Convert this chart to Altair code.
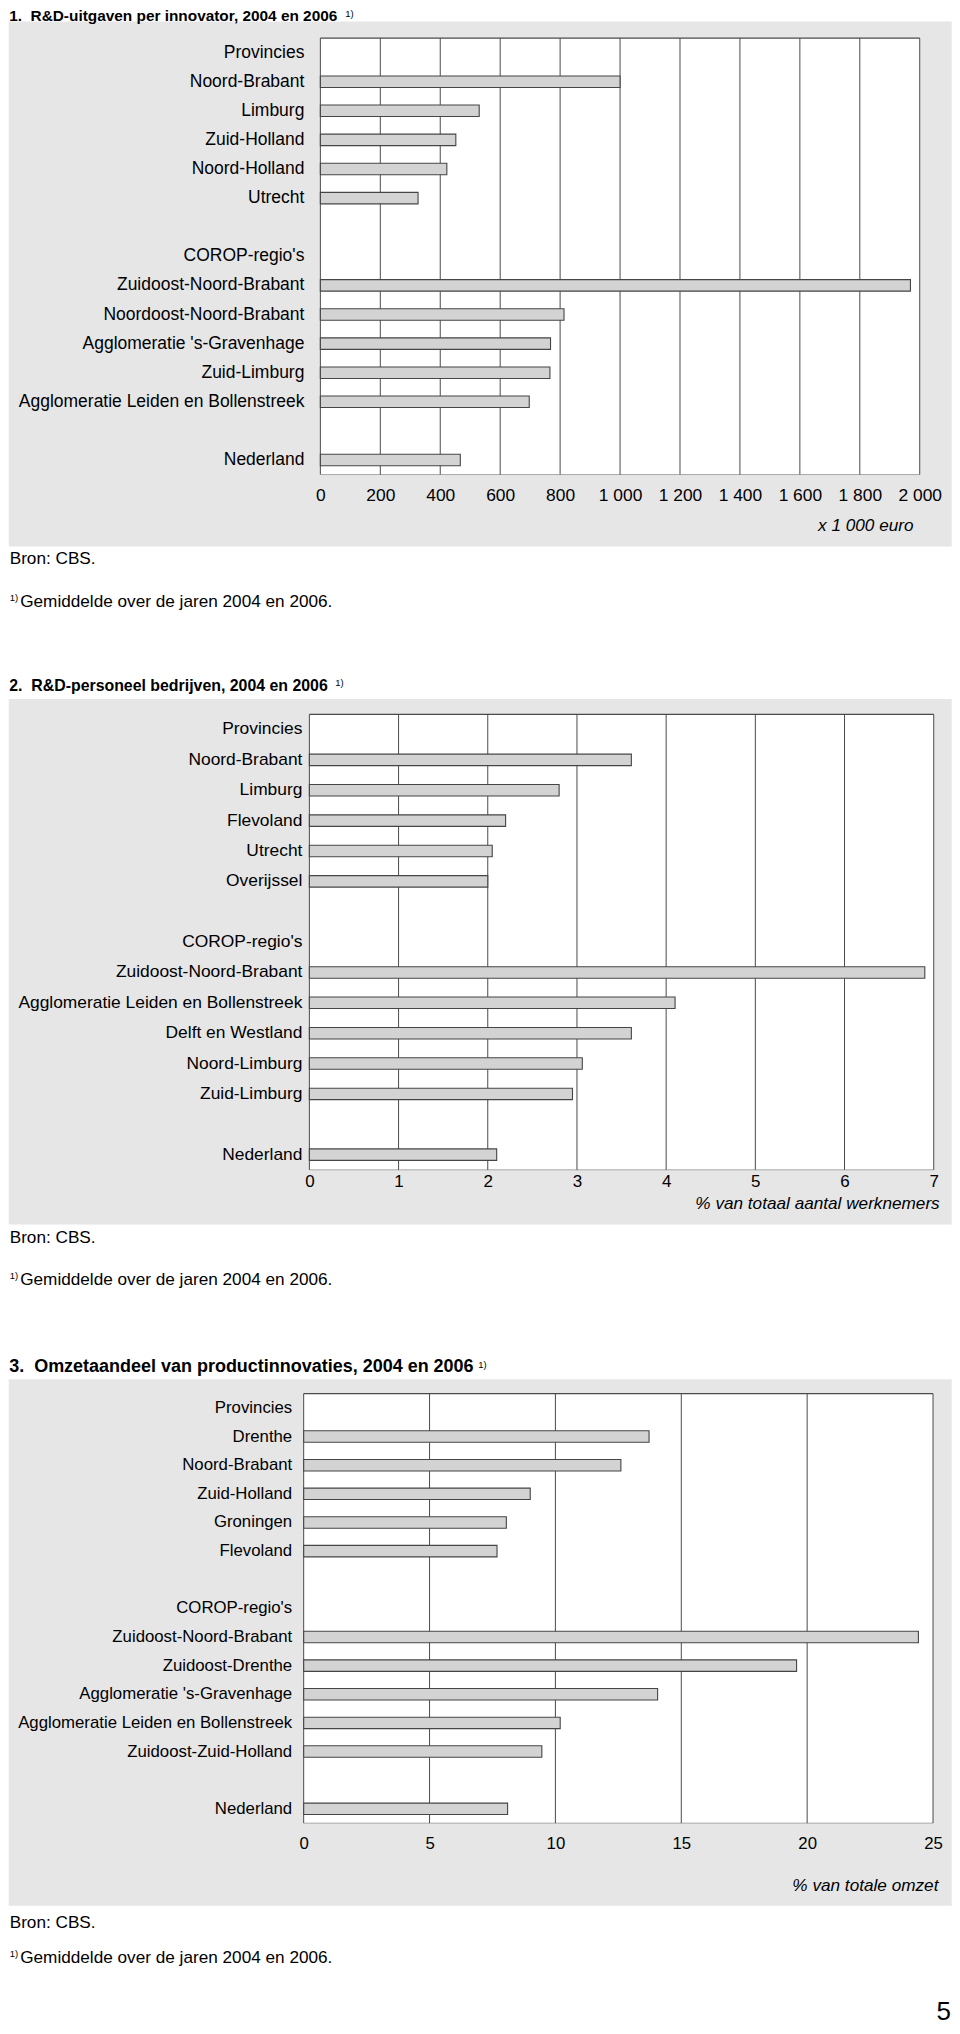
import altair as alt
import pandas as pd

FONT = "Liberation Sans"

# ---------------- data ----------------
c1_labels = ["Provincies", "Noord-Brabant", "Limburg", "Zuid-Holland", "Noord-Holland", "Utrecht", " ",
             "COROP-regio's", "Zuidoost-Noord-Brabant", "Noordoost-Noord-Brabant", "Agglomeratie 's-Gravenhage",
             "Zuid-Limburg", "Agglomeratie Leiden en Bollenstreek", "  ", "Nederland"]
c1_values = [None, 1000, 530, 452, 422, 326, None, None, 1969, 813, 768, 766, 697, None, 467]
c1_ticks = [0, 200, 400, 600, 800, 1000, 1200, 1400, 1600, 1800, 2000]

c2_labels = ["Provincies", "Noord-Brabant", "Limburg", "Flevoland", "Utrecht", "Overijssel", " ",
             "COROP-regio's", "Zuidoost-Noord-Brabant", "Agglomeratie Leiden en Bollenstreek", "Delft en Westland",
             "Noord-Limburg", "Zuid-Limburg", "  ", "Nederland"]
c2_values = [None, 3.61, 2.80, 2.20, 2.05, 2.00, None, None, 6.90, 4.10, 3.61, 3.06, 2.95, None, 2.10]
c2_ticks = [0, 1, 2, 3, 4, 5, 6, 7]

c3_labels = ["Provincies", "Drenthe", "Noord-Brabant", "Zuid-Holland", "Groningen", "Flevoland", " ",
             "COROP-regio's", "Zuidoost-Noord-Brabant", "Zuidoost-Drenthe", "Agglomeratie 's-Gravenhage",
             "Agglomeratie Leiden en Bollenstreek", "Zuidoost-Zuid-Holland", "  ", "Nederland"]
c3_values = [None, 13.72, 12.60, 9.0, 8.05, 7.68, None, None, 24.42, 19.58, 14.06, 10.19, 9.46, None, 8.10]
c3_ticks = [0, 5, 10, 15, 20, 25]

titles = ["1.\u00a0 R&D-uitgaven per innovator, 2004 en 2006",
          "2.\u00a0 R&D-personeel bedrijven, 2004 en 2006",
          "3.\u00a0 Omzetaandeel van productinnovaties, 2004 en 2006"]
axis_titles = ["x 1 000 euro", "% van totaal aantal werknemers", "% van totale omzet"]
source_text = "Bron: CBS."
note_mark = "1)"
note_text = "Gemiddelde over de jaren 2004 en 2006."
page_number = "5"

ONE = pd.DataFrame({"k": [0]})
PANEL = "#e6e6e6"
PAGE_L, PAGE_R = 8, 952
O = 303.3  # common origin of the three views (page x)


def rect(x1, x2, y1, y2, color):
    return alt.Chart(ONE).mark_rect(fill=color, strokeWidth=0).encode(
        x=alt.value(x1), x2=alt.value(x2), y=alt.value(y1), y2=alt.value(y2))


def txt(s, x, y, size, weight="normal", style="normal", align="left", baseline="middle"):
    return alt.Chart(pd.DataFrame({"t": [s]})).mark_text(
        align=align, baseline=baseline, font=FONT, fontSize=size, fontWeight=weight,
        fontStyle=style, color="black").encode(text="t:N", x=alt.value(x), y=alt.value(y))


def panel(labels, values, ticks, title, axis_title, g):
    T, H = g["top"], g["H"]
    rx = lambda px: px - O
    ry = lambda py: py - T
    x0, x1 = rx(g["pl"]), rx(g["pr"])
    df = pd.DataFrame({"label": labels, "v": values})
    X = alt.X("v:Q",
              scale=alt.Scale(domain=[ticks[0], ticks[-1]], range=[x0, x1], nice=False, zero=True),
              axis=alt.Axis(values=ticks,
                            labelExpr="replace(format(datum.value, ','), ',', ' ')",
                            labelFont=FONT, labelFontSize=g["tfs"], labelColor="black",
                            labelPadding=g["tick_pad"], ticks=False, tickSize=0, grid=False,
                            domain=False, labelFlush=False,
                            labelOverlap=False, title=axis_title, titleFont=FONT,
                            titleFontSize=17.2, titleFontStyle="italic", titleFontWeight="normal",
                            titleColor="black", titleX=rx(g["atx"]), titleY=g["aty"],
                            titleAlign="right", titleBaseline="middle", zindex=1))
    Y = alt.Y("label:N",
              scale=alt.Scale(domain=labels, paddingInner=0, paddingOuter=0),
              axis=alt.Axis(title=None, labelFont=FONT, labelFontSize=g["fs"], labelColor="black",
                            labelPadding=O - g["lab_r"], labelLimit=600, ticks=False, tickSize=0,
                            domain=False, grid=False, zindex=1))
    layers = [
        rect(rx(PAGE_L), rx(PAGE_R), ry(g["f_top"]), ry(g["f_bot"]), "white"),
        rect(rx(PAGE_L), rx(PAGE_R), ry(g["g_top"]), ry(g["g_bot"]), PANEL),
        rect(x0, x1, 0, H, "white"),
        alt.Chart(ONE).mark_rule(color="#a8a8a8", strokeWidth=1).encode(
            x=alt.value(x0), x2=alt.value(x1), y=alt.value(H)),
        alt.Chart(pd.DataFrame({"v": ticks})).mark_rule(color="#4a4a4a", strokeWidth=1).encode(
            x=X, y=alt.value(0), y2=alt.value(H)),
        alt.Chart(ONE).mark_rule(color="#4a4a4a", strokeWidth=1.2).encode(
            x=alt.value(x0), x2=alt.value(x1), y=alt.value(0)),
        alt.Chart(df).mark_bar(size=11.5, fill="#d3d3d3", stroke="#454545", strokeWidth=1.1).encode(
            x=X, y=Y),
        txt(title, rx(8.5), ry(g["title_y"]), g["title_fs"], weight="bold", baseline="alphabetic"),
        txt(note_mark, rx(g["sup_x"]), ry(g["sup_y"]), 9.5),
        txt(source_text, rx(9), ry(g["bron_y"]), 17.2),
        txt(note_mark, rx(9), ry(g["foot_y"] - 4), 9.5),
        txt(note_text, rx(19.5), ry(g["foot_y"]), 17.2),
    ]
    if g.get("page"):
        layers.append(txt(page_number, rx(944), ry(2012), 26, align="center"))
    return alt.layer(*layers).properties(width=x1, height=H)


g1 = dict(pl=320, pr=920, lab_r=303.5, top=37, H=437, f_top=8, f_bot=650, g_top=20.5, g_bot=546,
          title_y=20, title_fs=15.4, sup_x=345, sup_y=13, bron_y=559, foot_y=602,
          fs=17.5, tfs=17.4, tick_pad=12, atx=913.3, aty=51.4)
g2 = dict(pl=309, pr=934, lab_r=301.5, top=714, H=456, f_top=650, f_bot=1330, g_top=698.6, g_bot=1224.8,
          title_y=691, title_fs=15.9, sup_x=335, sup_y=683, bron_y=1238, foot_y=1280,
          fs=17.4, tfs=17, tick_pad=4, atx=939.5, aty=33.8)
g3 = dict(pl=303.3, pr=933.3, lab_r=291.3, top=1393.3, H=430, f_top=1330, f_bot=2026, g_top=1379,
          g_bot=1906, title_y=1372, title_fs=18, sup_x=478, sup_y=1364.4, bron_y=1923.6, foot_y=1958.6,
          fs=16.8, tfs=16.8, tick_pad=12, atx=938.2, aty=62.3, page=True)

chart = alt.vconcat(
    panel(c1_labels, c1_values, c1_ticks, titles[0], axis_titles[0], g1),
    panel(c2_labels, c2_values, c2_ticks, titles[1], axis_titles[1], g2),
    panel(c3_labels, c3_values, c3_ticks, titles[2], axis_titles[2], g3),
    spacing=0,
).resolve_scale(x="independent", y="independent").properties(
    padding=0, background="white"
).configure_view(stroke=None)

chart.save("out.html", embed_options={"renderer": "svg", "actions": False})
